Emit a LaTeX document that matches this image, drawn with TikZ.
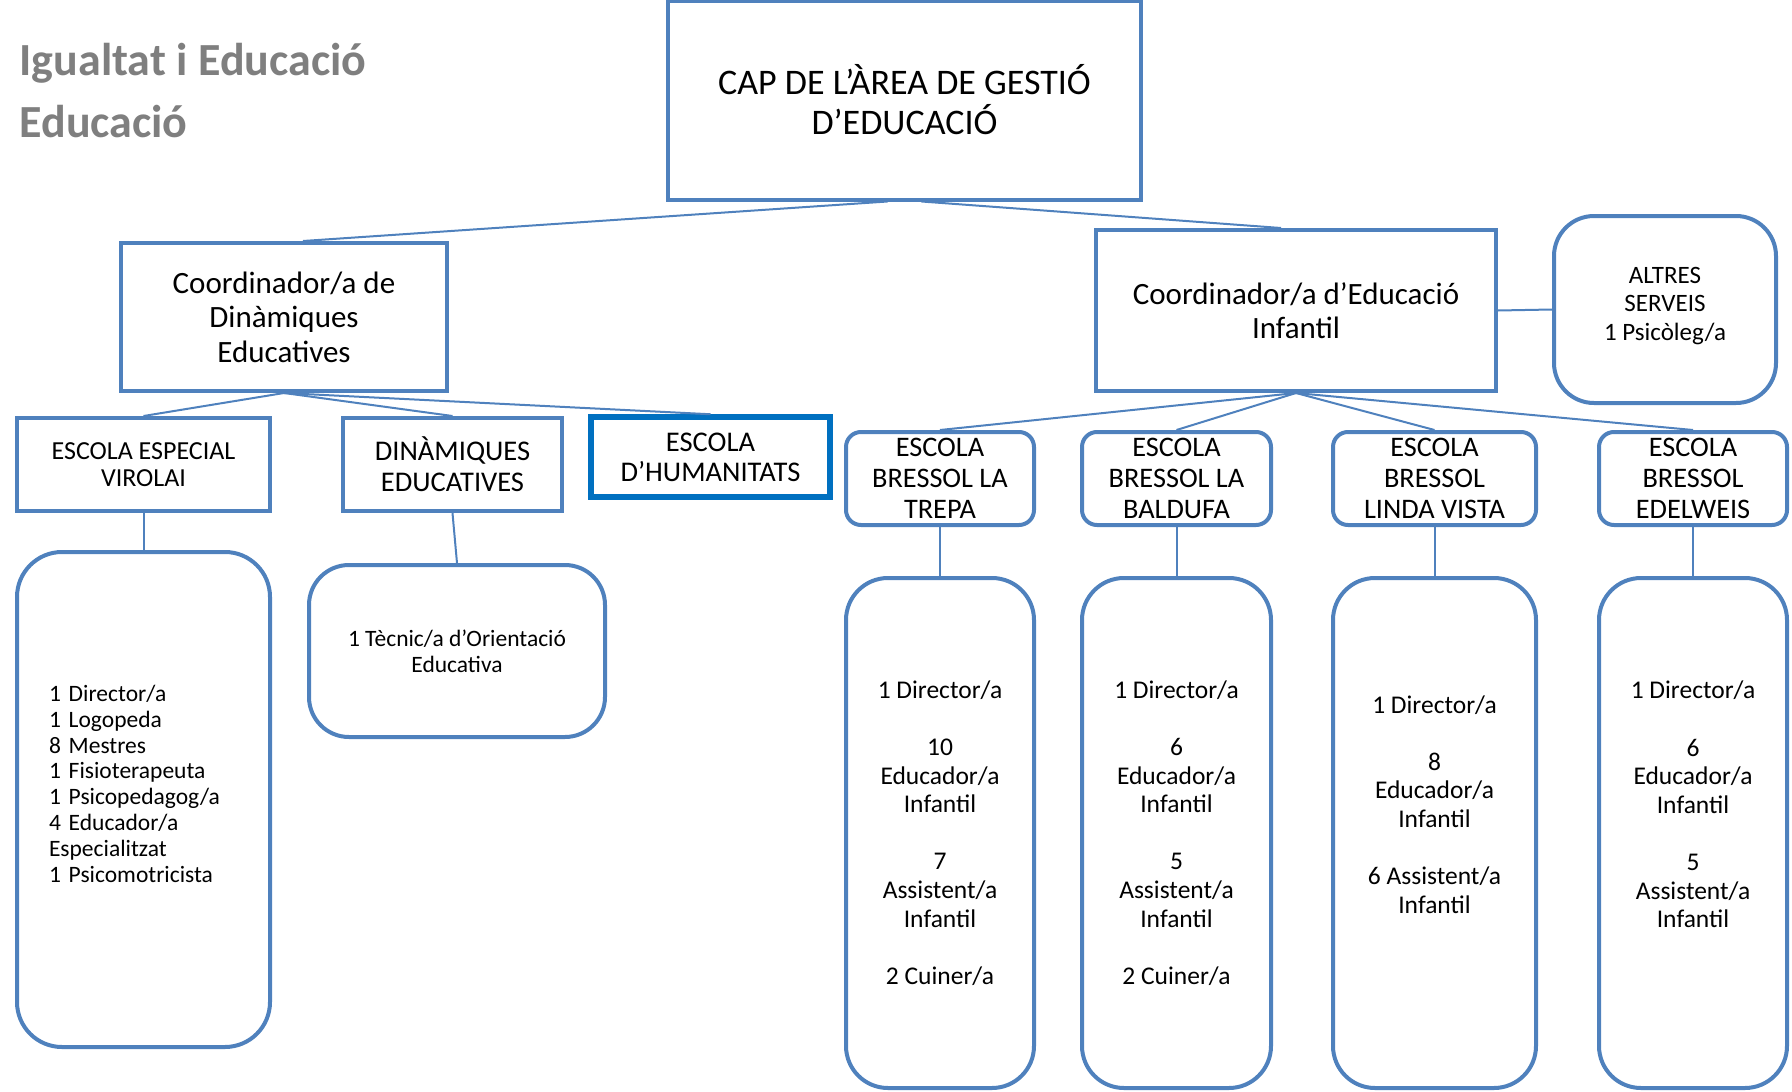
\documentclass[tikz,border=0pt]{standalone}
\usepackage{fontspec}
\setmainfont{Carlito}
\usepackage{xcolor}
\usepackage{tikz}
\usetikzlibrary{positioning}
\definecolor{boxblue}{HTML}{4F81BD}
\definecolor{darkblue}{HTML}{0070C0}
\definecolor{titlegray}{HTML}{7F7F7F}

\begin{document}
\begin{tikzpicture}[x=1pt, y=-1pt, node distance=50pt]
        \tikzset{box/.style={draw=boxblue, line width=4pt, align=center, inner sep=1pt, font=\fontsize{28.3}{31}\selectfont}}
        \tikzset{schoolbox/.style={box, rounded corners=15pt, minimum width=188pt, minimum height=93pt}}
        \tikzset{staffbox/.style={box, rounded corners=42pt, minimum width=188pt, minimum height=510pt, font=\fontsize{25.5}{28.6}\selectfont}}
        \tikzset{link/.style={draw=boxblue, line width=2pt}}
        \tikzset{heading/.style={anchor=base west, text=titlegray, font=\fontsize{46}{55}\selectfont\bfseries}}

        \useasboundingbox (0,0) rectangle (1792,1092);

        \node [heading] (title1) at (16,75) {Igualtat i Educació};
        \node [heading] (title2) at (16,137) {Educació};

        \node [box, minimum width=473pt, minimum height=199pt, font=\fontsize{36}{40}\selectfont] (cap) at (904.5,100) {CAP DE L’ÀREA DE GESTIÓ\\D’EDUCACIÓ};
        \node [box, minimum width=326pt, minimum height=148pt, font=\fontsize{31}{34.5}\selectfont] (coordde) at (284,317) {Coordinador/a de\\Dinàmiques\\Educatives};
        \node [box, minimum width=400pt, minimum height=161pt, font=\fontsize{31}{34.5}\selectfont] (coordei) at (1296,310.5) {Coordinador/a d’Educació\\Infantil};
        \node [box, rounded corners=40pt, minimum width=222pt, minimum height=187pt, font=\fontsize{25}{28.6}\selectfont] (altres) at (1665,309.5) {ALTRES\\SERVEIS\\1 Psicòleg/a\\[-17pt]~};

        \node [box, minimum width=253pt, minimum height=93pt, font=\fontsize{26}{27.5}\selectfont] (virolai) at (143.5,464.5) {ESCOLA ESPECIAL\\VIROLAI};
        \node [box, minimum width=219pt, minimum height=93pt, font=\fontsize{28.5}{31}\selectfont] (dinamiques) at (452.5,464.5) {DINÀMIQUES\\EDUCATIVES};
        \node [box, draw=darkblue, line width=5.5pt, minimum width=239pt, minimum height=80pt, font=\fontsize{28.5}{30}\selectfont] (humanitats) at (710.5,457) {ESCOLA\\D’HUMANITATS};
        \node [schoolbox] (trepa) at (940,478.5) {ESCOLA\\BRESSOL LA\\TREPA};
        \node [schoolbox, minimum width=189pt] (baldufa) at (1176.5,478.5) {ESCOLA\\BRESSOL LA\\BALDUFA};
        \node [schoolbox, minimum width=203pt] (linda) at (1434.5,478.5) {ESCOLA\\BRESSOL\\LINDA VISTA};
        \node [schoolbox] (edelweis) at (1693,478.5) {ESCOLA\\BRESSOL\\EDELWEIS};

        \node [box, rounded corners=45pt, below=37pt of virolai, minimum height=495pt, text width=189pt, inner xsep=32pt, align=left, font=\fontsize{23.5}{25.8}\selectfont] (virolaistaff) {1 Director/a\\1 Logopeda\\8 Mestres\\1 Fisioterapeuta\\1 Psicopedagog/a\\4 Educador/a\\Especialitzat\\1 Psicomotricista\\[6pt]~};
        \node [box, rounded corners=40pt, below=50pt of dinamiques, xshift=4.5pt, minimum width=296pt, minimum height=172pt, font=\fontsize{23.5}{26}\selectfont] (tecnic) {1 Tècnic/a d’Orientació\\Educativa};
        \node [staffbox, below=49pt of trepa] (trepastaff) {1 Director/a\\[28.6pt]10\\Educador/a\\Infantil\\[28.6pt]7\\Assistent/a\\Infantil\\[28.6pt]2 Cuiner/a};
        \node [staffbox, minimum width=189pt, below=49pt of baldufa] (baldufastaff) {1 Director/a\\[28.6pt]6\\Educador/a\\Infantil\\[28.6pt]5\\Assistent/a\\Infantil\\[28.6pt]2 Cuiner/a};
        \node [staffbox, minimum width=203pt, below=49pt of linda] (lindastaff) {1 Director/a\\[28.6pt]8\\Educador/a\\Infantil\\[28.6pt]6 Assistent/a\\Infantil\\[28.6pt]~};
        \node [staffbox, below=49pt of edelweis] (edelweisstaff) {1 Director/a\\[28.6pt]6\\Educador/a\\Infantil\\[28.6pt]5\\Assistent/a\\Infantil\\[28.6pt]~};

        \draw [link] ([xshift=-17pt]cap.south) -- ([xshift=19pt]coordde.north);
        \draw [link] ([xshift=17pt]cap.south) -- ([xshift=-15pt]coordei.north);
        \draw [link] (coordei.east) -- (altres.west);
        \draw [link] (coordde.south) -- (virolai.north);
        \draw [link] (coordde.south) -- (dinamiques.north);
        \draw [link] (coordde.south) -- (humanitats.north);
        \draw [link] (coordei.south) -- (trepa.north);
        \draw [link] (coordei.south) -- (baldufa.north);
        \draw [link] (coordei.south) -- (linda.north);
        \draw [link] (coordei.south) -- (edelweis.north);
        \draw [link] (virolai.south) -- (virolaistaff.north);
        \draw [link] (dinamiques.south) -- (tecnic.north);
        \draw [link] (trepa.south) -- (trepastaff.north);
        \draw [link] (baldufa.south) -- (baldufastaff.north);
        \draw [link] (linda.south) -- (lindastaff.north);
        \draw [link] (edelweis.south) -- (edelweisstaff.north);
\end{tikzpicture}
\end{document}
